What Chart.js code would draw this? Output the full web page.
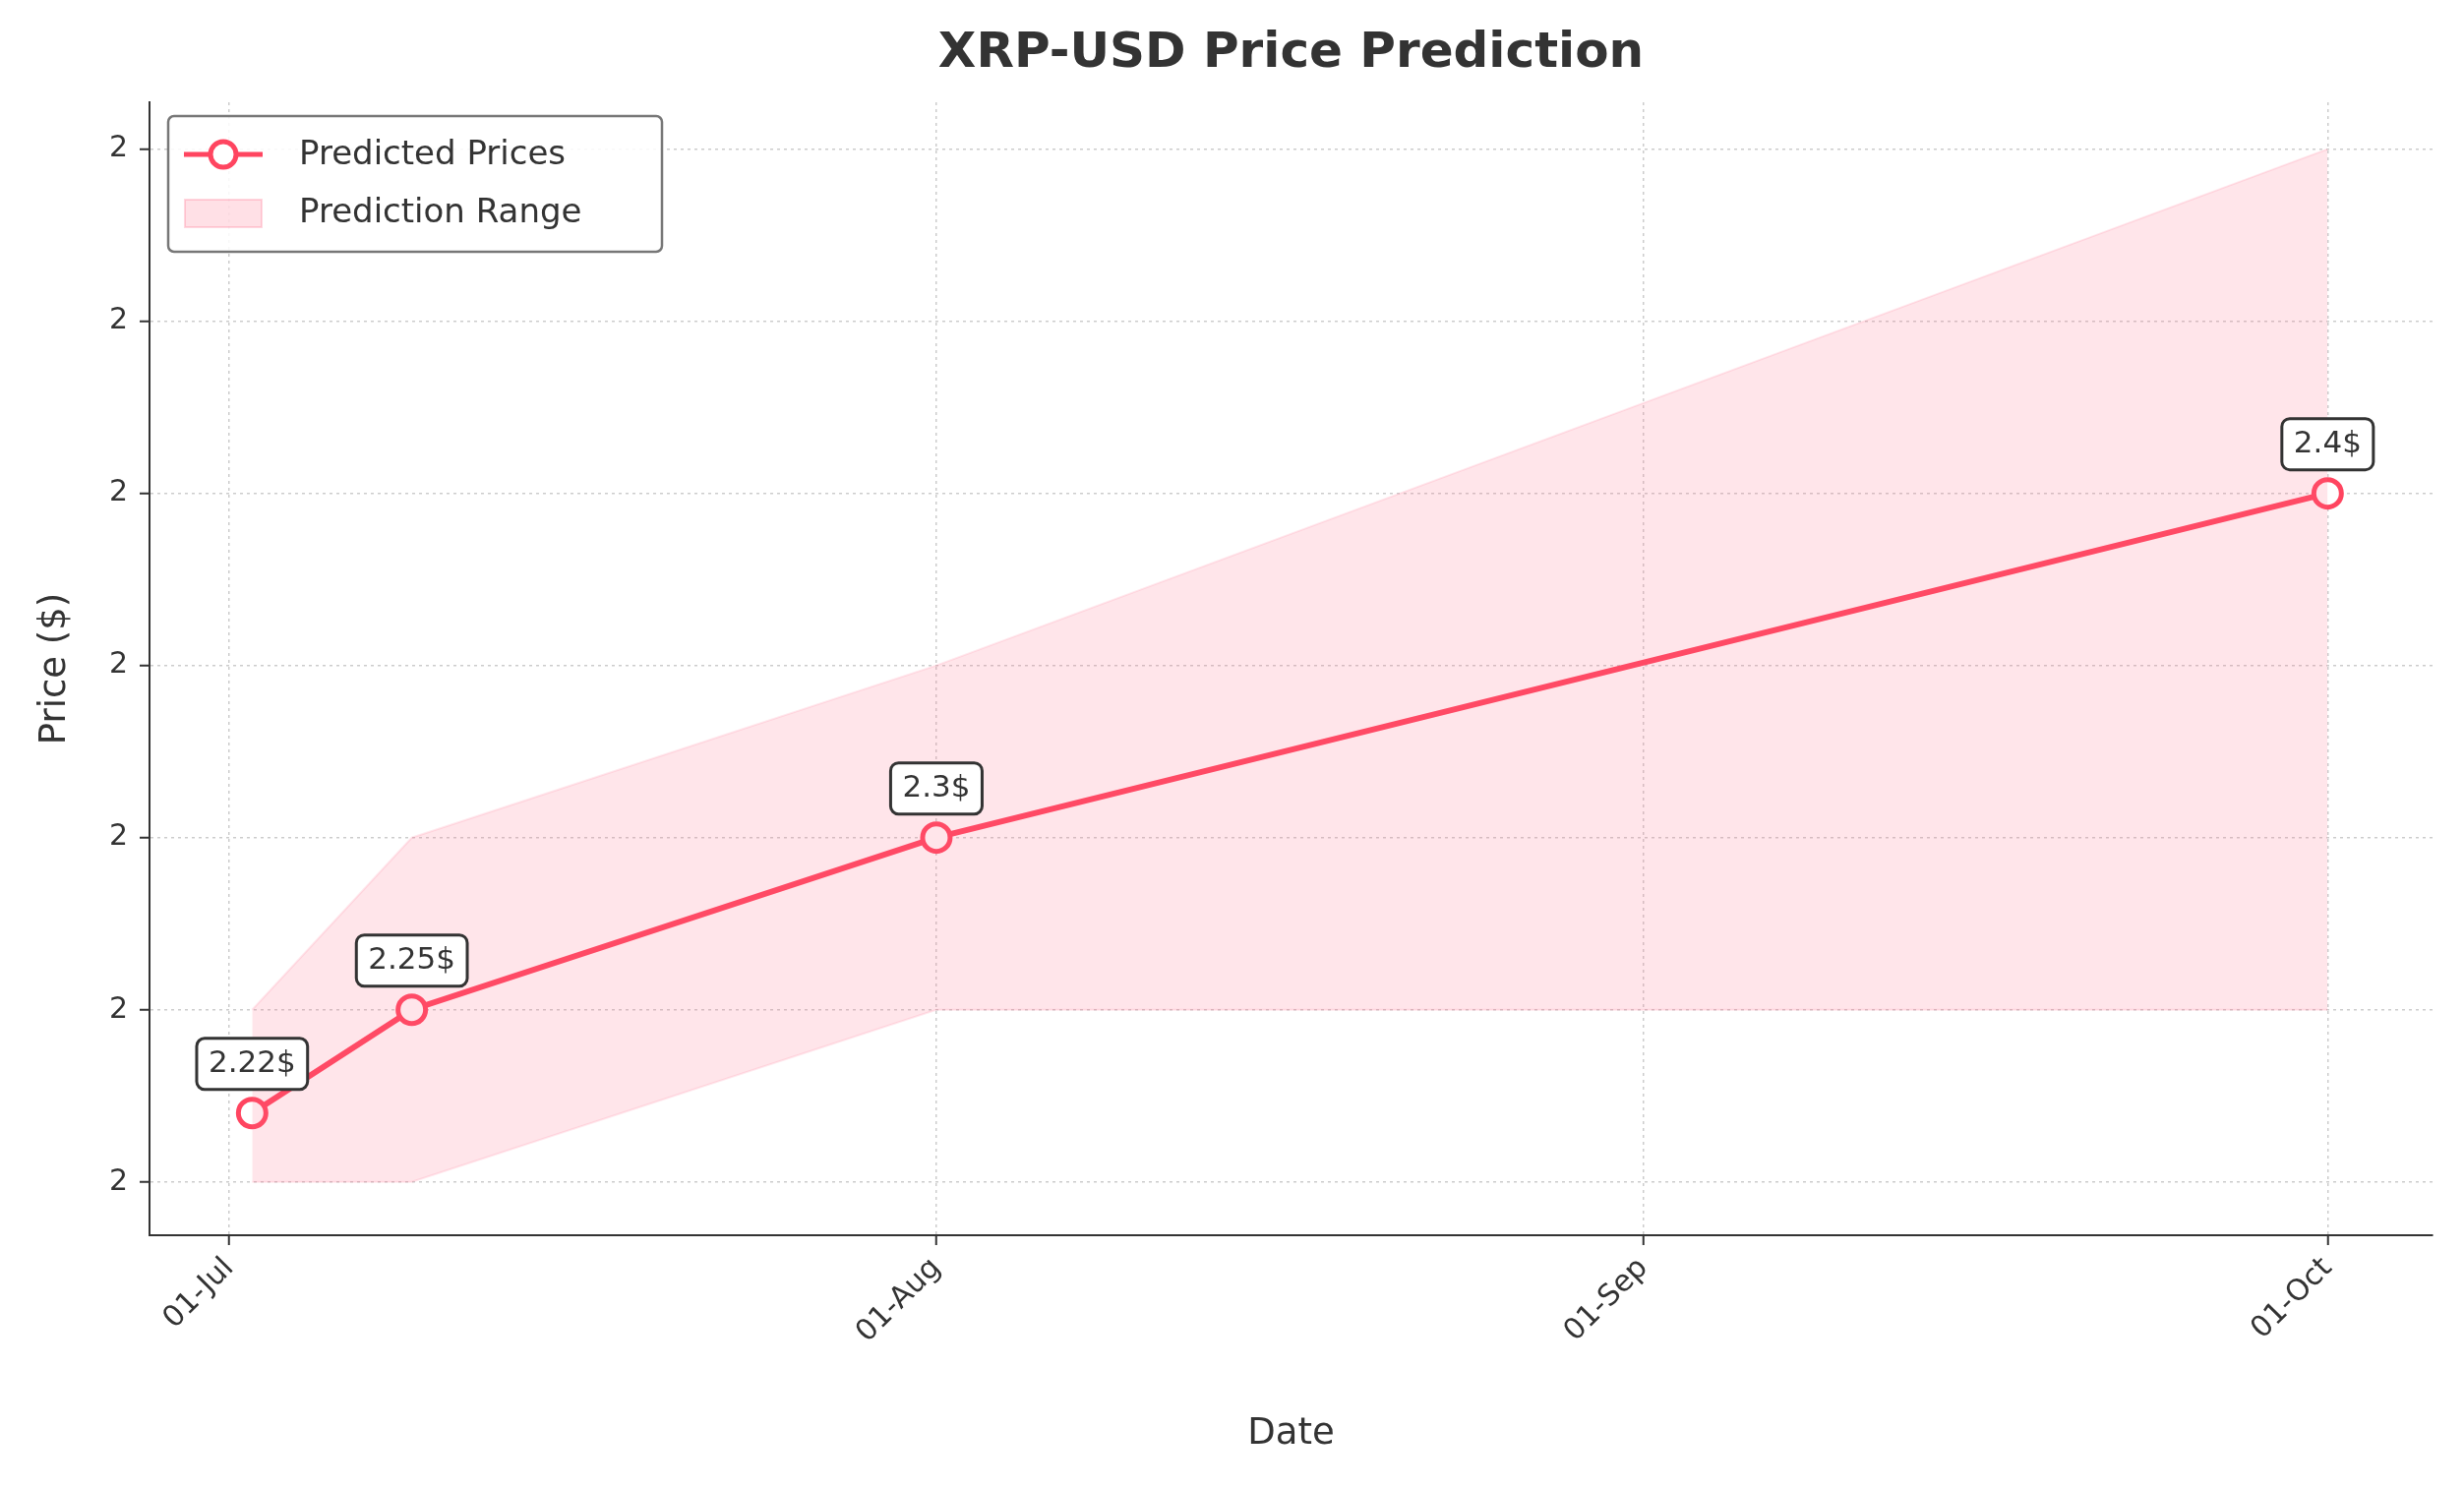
<!DOCTYPE html>
<html><head><meta charset="utf-8">
<script src="https://cdn.jsdelivr.net/npm/chart.js@4"></script>
<style>html,body{margin:0;padding:0;background:#fff}canvas{display:block}</style>
</head><body>
<canvas id="c" width="2505" height="1513"></canvas>
<script>
// Days counted from 1 Jul
const predDays = [1, 8, 31, 92];
const predPrices = [2.22, 2.25, 2.30, 2.40];
const lowerBound = [2.20, 2.20, 2.25, 2.25];
const upperBound = [2.25, 2.30, 2.35, 2.50];
const priceLabels = ['2.22$', '2.25$', '2.3$', '2.4$'];
const xTickDays = [0, 31, 62, 92];
const xTickLabels = ['01-Jul', '01-Aug', '01-Sep', '01-Oct'];
const yTickValues = [2.20, 2.25, 2.30, 2.35, 2.40, 2.45, 2.50];
const yTickLabels = ['2', '2', '2', '2', '2', '2', '2'];

const F = 'DejaVu Sans';
const RED = '#FF4560';
const pts = (ys) => predDays.map((d, i) => ({x: d, y: ys[i]}));

const annot = {
  id: 'annot',
  afterDatasetsDraw(chart) {
    const c = chart.ctx, xs = chart.scales.x, ys = chart.scales.y;
    c.save();
    c.font = '31px ' + F;
    c.textAlign = 'center'; c.textBaseline = 'middle';
    predDays.forEach((d, i) => {
      const px = xs.getPixelForValue(d), py = ys.getPixelForValue(predPrices[i]) - 50;
      const w = c.measureText(priceLabels[i]).width + 24, h = 52;
      c.beginPath(); c.roundRect(px - w/2, py - h/2, w, h, 8);
      c.fillStyle = '#fff'; c.fill(); c.lineWidth = 3; c.strokeStyle = '#333'; c.stroke();
      c.fillStyle = '#333'; c.fillText(priceLabels[i], px, py);
    });
    c.font = 'bold 50px ' + F; c.fillStyle = '#333';
    c.fillText('XRP-USD Price Prediction', (chart.chartArea.left + chart.chartArea.right)/2, 55);
    const lx = 171, ly = 118, lw = 502, lh = 138;
    c.beginPath(); c.roundRect(lx, ly, lw, lh, 6);
    c.fillStyle = 'rgba(255,255,255,0.85)'; c.fill(); c.strokeStyle = '#777'; c.lineWidth = 2.5; c.stroke();
    c.strokeStyle = RED; c.lineWidth = 5;
    c.beginPath(); c.moveTo(187, 157); c.lineTo(267, 157); c.stroke();
    c.beginPath(); c.arc(227, 157, 13, 0, Math.PI*2); c.fillStyle = '#fff'; c.fill(); c.stroke();
    c.fillStyle = 'rgba(255,99,132,0.2)'; c.fillRect(188, 203, 78, 28);
    c.strokeStyle = 'rgba(255,99,132,0.25)'; c.lineWidth = 2; c.strokeRect(188, 203, 78, 28);
    c.fillStyle = '#333'; c.textAlign = 'left'; c.font = '34px ' + F;
    c.fillText('Predicted Prices', 304, 158);
    c.fillText('Prediction Range', 304, 217);
    c.restore();
  }
};

const grid = {color: 'rgba(0,0,0,0.2)', lineWidth: 1.5, drawTicks: true, tickLength: 10, tickColor: '#333', tickBorderDash: [], tickWidth: 2};
const border = {display: true, color: '#333', width: 2, dash: [3, 4]};

new Chart(document.getElementById('c'), {
  type: 'line',
  data: {datasets: [
    {data: pts(lowerBound), borderWidth: 2, borderColor: 'rgba(255,99,132,0.15)', pointRadius: 0, fill: false, tension: 0},
    {data: pts(upperBound), borderWidth: 2, borderColor: 'rgba(255,99,132,0.15)', pointRadius: 0, fill: '-1', backgroundColor: 'rgba(255,99,132,0.17)', tension: 0},
    {data: pts(predPrices), borderColor: RED, borderWidth: 6, pointRadius: 14, pointBorderWidth: 5,
     pointBackgroundColor: '#fff', pointBorderColor: RED, fill: false, tension: 0}
  ]},
  options: {
    responsive: false, animation: false, devicePixelRatio: 1,
    layout: {padding: {top: 104, right: 32, left: 30, bottom: 28}},
    plugins: {legend: {display: false}, tooltip: {enabled: false}},
    scales: {
      x: {type: 'linear', min: -3.5, max: 96.6,
        afterBuildTicks(s) { s.ticks = xTickDays.map(v => ({value: v})); },
        afterFit(s) { s.height = 229; },
        ticks: {autoSkip: false, minRotation: 45, maxRotation: 45, color: '#333', font: {family: F, size: 30}, padding: 6,
          callback: (v) => xTickLabels[xTickDays.indexOf(v)]},
        grid: grid, border: border,
        title: {display: true, text: 'Date', color: '#333', font: {family: F, size: 37}, padding: {top: 0}}
      },
      y: {min: 2.1845, max: 2.5136,
        afterBuildTicks(s) { s.ticks = yTickValues.map(v => ({value: v})); },
        afterFit(s) { s.width = 122; },
        ticks: {color: '#333', font: {family: F, size: 30}, padding: 12,
          callback: (v) => yTickLabels[yTickValues.findIndex(t => Math.abs(t - v) < 1e-6)]},
        grid: grid, border: border,
        title: {display: true, text: 'Price ($)', color: '#333', font: {family: F, size: 37}, padding: {bottom: 10}}
      }
    }
  },
  plugins: [annot]
});
</script>
</body></html>
